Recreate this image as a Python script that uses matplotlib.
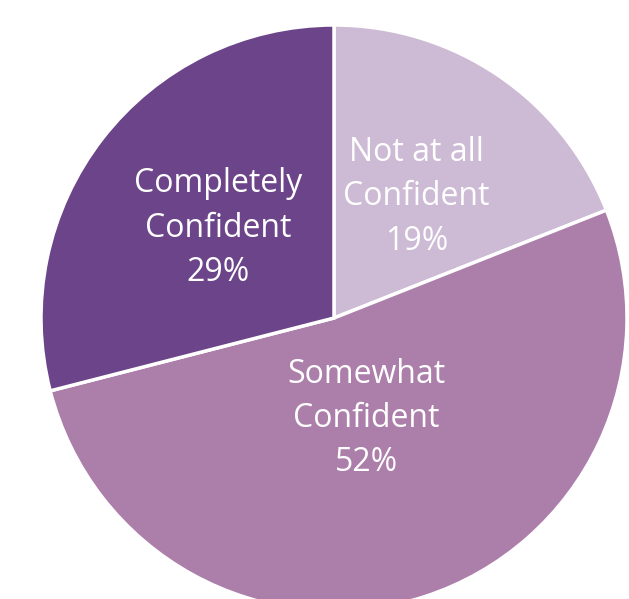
import matplotlib.pyplot as plt
import numpy as np

labels = ['Not at all\nConfident', 'Somewhat\nConfident', 'Completely\nConfident']
values = [19, 52, 29]
colors = ['#CDBAD4', '#AC7EAA', '#6B4489']
label_dist = [0.50, 0.36, 0.50]

W, H = 629, 599
cx, cy, R = 334, 318, 293  # pixel centre and radius

fig = plt.figure(figsize=(W / 100, H / 100), dpi=100)
ax = fig.add_axes([0, 0, 1, 1])
wedges, _ = ax.pie(values, colors=colors, startangle=90, counterclock=False,
                   wedgeprops=dict(edgecolor='white', linewidth=2.5))
ax.set_xlim(-cx / R, (W - cx) / R)
ax.set_ylim(-(H - cy) / R, cy / R)
ax.set_aspect('equal')
ax.axis('off')

for w, lab, v, d in zip(wedges, labels, values, label_dist):
    ang = np.deg2rad((w.theta1 + w.theta2) / 2)
    ax.text(d * np.cos(ang), d * np.sin(ang), f'{lab}\n{v}%',
            ha='center', va='center', color='white', fontsize=23,
            family='Open Sans', linespacing=1.45)

fig.savefig('out.png', dpi=100)
